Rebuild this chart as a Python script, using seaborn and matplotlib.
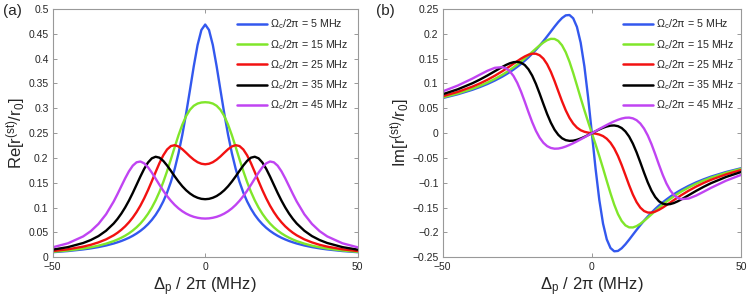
import matplotlib
matplotlib.use("Agg")
import matplotlib.pyplot as plt
import seaborn as sns
import pandas as pd

# probe detuning (MHz)
detuning = [-50, -45, -40, -37.5, -35, -32.5, -30, -28.75, -27.5, -26.25, -25, -23.75, -22.5,
            -21.25, -20, -18.75, -17.5, -16.25, -15, -13.75, -12.5, -11.25, -10, -8.75, -7.5,
            -6.25, -5, -3.75, -2.5, -1.25, 0, 1.25, 2.5, 3.75, 5, 6.25, 7.5, 8.75, 10, 11.25,
            12.5, 13.75, 15, 16.25, 17.5, 18.75, 20, 21.25, 22.5, 23.75, 25, 26.25, 27.5, 28.75,
            30, 32.5, 35, 37.5, 40, 45, 50]

coupling = [5, 15, 25, 35, 45]

re_5 = [0.0103, 0.0126, 0.0159, 0.0180, 0.0206, 0.0238, 0.0278, 0.0302, 0.0328, 0.0359, 0.0393,
        0.0433, 0.0479, 0.0532, 0.0594, 0.0667, 0.0753, 0.0855, 0.0978, 0.1125, 0.1303, 0.1519,
        0.1780, 0.2095, 0.2467, 0.2896, 0.3367, 0.3846, 0.4275, 0.4577, 0.4687,
        0.4577, 0.4275, 0.3846, 0.3367, 0.2896, 0.2467, 0.2095, 0.1780, 0.1519, 0.1303, 0.1125,
        0.0978, 0.0855, 0.0753, 0.0667, 0.0594, 0.0532, 0.0479, 0.0433, 0.0393, 0.0359, 0.0328,
        0.0302, 0.0278, 0.0238, 0.0206, 0.0180, 0.0159, 0.0126, 0.0103]
re_15 = [0.0110, 0.0137, 0.0176, 0.0202, 0.0234, 0.0275, 0.0326, 0.0358, 0.0394, 0.0435, 0.0483,
         0.0539, 0.0604, 0.0680, 0.0770, 0.0876, 0.1001, 0.1147, 0.1318, 0.1514, 0.1734, 0.1973,
         0.2219, 0.2458, 0.2671, 0.2845, 0.2971, 0.3051, 0.3096, 0.3117, 0.3123,
         0.3117, 0.3096, 0.3051, 0.2971, 0.2845, 0.2671, 0.2458, 0.2219, 0.1973, 0.1734, 0.1514,
         0.1318, 0.1147, 0.1001, 0.0876, 0.0770, 0.0680, 0.0604, 0.0539, 0.0483, 0.0435, 0.0394,
         0.0358, 0.0326, 0.0275, 0.0234, 0.0202, 0.0176, 0.0137, 0.0110]
re_25 = [0.0126, 0.0161, 0.0215, 0.0252, 0.0300, 0.0361, 0.0443, 0.0494, 0.0554, 0.0623, 0.0705,
         0.0800, 0.0911, 0.1040, 0.1188, 0.1353, 0.1532, 0.1717, 0.1896, 0.2053, 0.2171, 0.2240,
         0.2258, 0.2232, 0.2176, 0.2105, 0.2031, 0.1966, 0.1915, 0.1884, 0.1873,
         0.1884, 0.1915, 0.1966, 0.2031, 0.2105, 0.2176, 0.2232, 0.2258, 0.2240, 0.2171, 0.2053,
         0.1896, 0.1717, 0.1532, 0.1353, 0.1188, 0.1040, 0.0911, 0.0800, 0.0705, 0.0623, 0.0554,
         0.0494, 0.0443, 0.0361, 0.0300, 0.0252, 0.0215, 0.0161, 0.0126]
re_35 = [0.0154, 0.0205, 0.0288, 0.0348, 0.0427, 0.0535, 0.0681, 0.0773, 0.0880, 0.1003, 0.1142,
         0.1296, 0.1461, 0.1627, 0.1782, 0.1909, 0.1993, 0.2025, 0.2006, 0.1942, 0.1849, 0.1741,
         0.1630, 0.1525, 0.1430, 0.1350, 0.1285, 0.1234, 0.1199, 0.1177, 0.1170,
         0.1177, 0.1199, 0.1234, 0.1285, 0.1350, 0.1430, 0.1525, 0.1630, 0.1741, 0.1849, 0.1942,
         0.2006, 0.2025, 0.1993, 0.1909, 0.1782, 0.1627, 0.1461, 0.1296, 0.1142, 0.1003, 0.0880,
         0.0773, 0.0681, 0.0535, 0.0427, 0.0348, 0.0288, 0.0205, 0.0154]
re_45 = [0.0201, 0.0282, 0.0421, 0.0527, 0.0672, 0.0867, 0.1124, 0.1274, 0.1432, 0.1589, 0.1732,
         0.1845, 0.1913, 0.1929, 0.1892, 0.1813, 0.1705, 0.1584, 0.1459, 0.1341, 0.1233, 0.1138,
         0.1055, 0.0985, 0.0927, 0.0880, 0.0843, 0.0815, 0.0796, 0.0784, 0.0780,
         0.0784, 0.0796, 0.0815, 0.0843, 0.0880, 0.0927, 0.0985, 0.1055, 0.1138, 0.1233, 0.1341,
         0.1459, 0.1584, 0.1705, 0.1813, 0.1892, 0.1929, 0.1913, 0.1845, 0.1732, 0.1589, 0.1432,
         0.1274, 0.1124, 0.0867, 0.0672, 0.0527, 0.0421, 0.0282, 0.0201]

im_5 = [0.0707, 0.0782, 0.0874, 0.0929, 0.0990, 0.1060, 0.1139, 0.1183, 0.1230, 0.1281, 0.1336,
        0.1394, 0.1458, 0.1526, 0.1600, 0.1679, 0.1763, 0.1853, 0.1948, 0.2046, 0.2145, 0.2238,
        0.2318, 0.2372, 0.2379, 0.2313, 0.2139, 0.1822, 0.1345, 0.0718, 0.0,
        -0.0718, -0.1345, -0.1822, -0.2139, -0.2313, -0.2379, -0.2372, -0.2318, -0.2238, -0.2145,
        -0.2046, -0.1948, -0.1853, -0.1763, -0.1679, -0.1600, -0.1526, -0.1458, -0.1394, -0.1336,
        -0.1281, -0.1230, -0.1183, -0.1139, -0.1060, -0.0990, -0.0929, -0.0874, -0.0782, -0.0707]
im_15 = [0.0719, 0.0798, 0.0895, 0.0953, 0.1018, 0.1092, 0.1176, 0.1223, 0.1272, 0.1325, 0.1381,
         0.1440, 0.1503, 0.1568, 0.1635, 0.1702, 0.1767, 0.1825, 0.1872, 0.1899, 0.1897, 0.1857,
         0.1769, 0.1629, 0.1439, 0.1211, 0.0962, 0.0708, 0.0462, 0.0227, 0.0,
         -0.0227, -0.0462, -0.0708, -0.0962, -0.1211, -0.1439, -0.1629, -0.1769, -0.1857, -0.1897,
         -0.1899, -0.1872, -0.1825, -0.1767, -0.1702, -0.1635, -0.1568, -0.1503, -0.1440, -0.1381,
         -0.1325, -0.1272, -0.1223, -0.1176, -0.1092, -0.1018, -0.0953, -0.0895, -0.0798, -0.0719]
im_25 = [0.0744, 0.0830, 0.0938, 0.1002, 0.1075, 0.1157, 0.1248, 0.1297, 0.1347, 0.1399, 0.1450,
         0.1500, 0.1544, 0.1579, 0.1600, 0.1599, 0.1568, 0.1500, 0.1389, 0.1236, 0.1049, 0.0844,
         0.0642, 0.0459, 0.0308, 0.0193, 0.0112, 0.0059, 0.0028, 0.0010, 0.0,
         -0.0010, -0.0028, -0.0059, -0.0112, -0.0193, -0.0308, -0.0459, -0.0642, -0.0844, -0.1049,
         -0.1236, -0.1389, -0.1500, -0.1568, -0.1599, -0.1600, -0.1579, -0.1544, -0.1500, -0.1450,
         -0.1399, -0.1347, -0.1297, -0.1248, -0.1157, -0.1075, -0.1002, -0.0938, -0.0830, -0.0744]
im_35 = [0.0783, 0.0882, 0.1006, 0.1080, 0.1161, 0.1248, 0.1334, 0.1374, 0.1407, 0.1429, 0.1436,
         0.1419, 0.1372, 0.1286, 0.1159, 0.0992, 0.0796, 0.0588, 0.0387, 0.0211, 0.0069, -0.0034,
         -0.0103, -0.0141, -0.0155, -0.0151, -0.0134, -0.0108, -0.0075, -0.0038, 0.0,
         0.0038, 0.0075, 0.0108, 0.0134, 0.0151, 0.0155, 0.0141, 0.0103, 0.0034, -0.0069,
         -0.0211, -0.0387, -0.0588, -0.0796, -0.0992, -0.1159, -0.1286, -0.1372, -0.1419, -0.1436,
         -0.1429, -0.1407, -0.1374, -0.1334, -0.1248, -0.1161, -0.1080, -0.1006, -0.0882, -0.0783]
im_45 = [0.0841, 0.0957, 0.1100, 0.1179, 0.1256, 0.1316, 0.1329, 0.1303, 0.1246, 0.1150, 0.1013,
         0.0838, 0.0636, 0.0424, 0.0222, 0.0047, -0.0092, -0.0194, -0.0261, -0.0298, -0.0313,
         -0.0310, -0.0294, -0.0269, -0.0238, -0.0203, -0.0165, -0.0125, -0.0084, -0.0042, 0.0,
         0.0042, 0.0084, 0.0125, 0.0165, 0.0203, 0.0238, 0.0269, 0.0294, 0.0310, 0.0313,
         0.0298, 0.0261, 0.0194, 0.0092, -0.0047, -0.0222, -0.0424, -0.0636, -0.0838, -0.1013,
         -0.1150, -0.1246, -0.1303, -0.1329, -0.1316, -0.1256, -0.1179, -0.1100, -0.0957, -0.0841]

re_ticks = [0, 0.05, 0.1, 0.15, 0.2, 0.25, 0.3, 0.35, 0.4, 0.45, 0.5]
re_tick_labels = ["0", "0.05", "0.1", "0.15", "0.2", "0.25", "0.3", "0.35", "0.4", "0.45", "0.5"]
im_ticks = [-0.25, -0.2, -0.15, -0.1, -0.05, 0, 0.05, 0.1, 0.15, 0.2, 0.25]
im_tick_labels = ["\u22120.25", "\u22120.2", "\u22120.15", "\u22120.1", "\u22120.05", "0",
                  "0.05", "0.1", "0.15", "0.2", "0.25"]
x_ticks = [-50, 0, 50]
x_tick_labels = ["\u221250", "0", "50"]

colors = ["#3358ee", "#80e62a", "#f21111", "#000000", "#c044f2"]

sns.set_theme(style="white")
plt.rcParams["font.family"] = ["Liberation Sans", "DejaVu Sans"]
plt.rcParams["mathtext.fontset"] = "custom"
plt.rcParams["mathtext.rm"] = "Liberation Sans"
plt.rcParams["mathtext.it"] = "Liberation Sans"
plt.rcParams["mathtext.sf"] = "Liberation Sans"

re_series = [re_5, re_15, re_25, re_35, re_45]
im_series = [im_5, im_15, im_25, im_35, im_45]

rows = []
for om, re_vals, im_vals in zip(coupling, re_series, im_series):
    for d, r, i in zip(detuning, re_vals, im_vals):
        rows.append({"detuning": d, "re": r, "im": i,
                     "label": r"$\mathregular{\Omega_c/2\pi}$ = %d MHz" % om})
df = pd.DataFrame(rows)
labels = list(dict.fromkeys(df["label"]))

fig = plt.figure(figsize=(7.48, 2.98), dpi=100)
ax_a = fig.add_axes([52.7 / 748, 1 - 257.3 / 298, 305 / 748, 248.3 / 298])
ax_b = fig.add_axes([442.7 / 748, 1 - 257.3 / 298, 298.3 / 748, 248.3 / 298])

panels = [
    (ax_a, "re", re_ticks, re_tick_labels, (0, 0.5), r"Re[r$^{\mathregular{(st)}}$/r$_\mathregular{0}$]", "(a)", 3 / 748),
    (ax_b, "im", im_ticks, im_tick_labels, (-0.25, 0.25), r"Im[r$^{\mathregular{(st)}}$/r$_\mathregular{0}$]", "(b)", 376 / 748),
]

for ax, col, yt, ytl, ylim, ylab, tag, tag_x in panels:
    sns.lineplot(data=df, x="detuning", y=col, hue="label", hue_order=labels,
                 palette=colors, linewidth=1.7, ax=ax, sort=False, estimator=None)
    ax.set_xlim(-50, 50)
    ax.set_ylim(*ylim)
    ax.set_xticks(x_ticks)
    ax.set_xticklabels(x_tick_labels)
    ax.set_yticks(yt)
    ax.set_yticklabels(ytl)
    ax.tick_params(direction="in", length=3, width=0.6, color="#888888",
                   labelsize=7.5, top=True, right=True, bottom=True, left=True)
    ax.tick_params(axis="x", pad=3.5)
    ax.tick_params(axis="y", pad=3)
    for s in ax.spines.values():
        s.set_color("#999999")
        s.set_linewidth(0.8)
    ax.set_xlabel(r"$\mathregular{\Delta_p}$ / 2$\mathregular{\pi}$ (MHz)", fontsize=12, labelpad=2)
    ax.set_ylabel(ylab, fontsize=12, labelpad=1)
    leg = ax.legend(loc="upper left", bbox_to_anchor=(0.605, 0.965), frameon=False,
                    fontsize=7.7, handlelength=2.8, handletextpad=0.25, labelspacing=0.6,
                    borderpad=0, borderaxespad=0)
    for line in leg.get_lines():
        line.set_linewidth(1.8)
    fig.text(tag_x, 0.985, tag, fontsize=11, va="top", ha="left")

fig.savefig("out.png", dpi=100)
